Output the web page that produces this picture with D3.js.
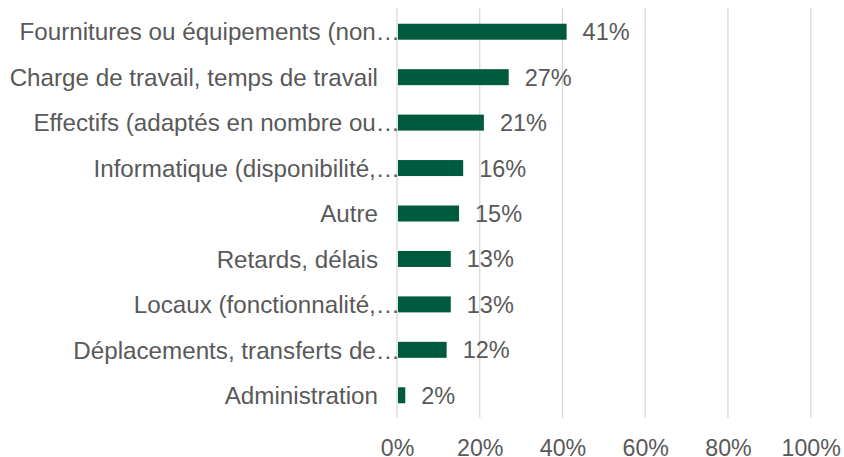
<!DOCTYPE html>
<html><head><meta charset="utf-8">
<script src="https://cdn.jsdelivr.net/npm/d3@7"></script>
<style>body{margin:0;background:#fff}svg{display:block}</style>
</head><body>
<script>
const categories = [
  "Fournitures ou équipements (non…",
  "Charge de travail, temps de travail",
  "Effectifs (adaptés en nombre ou…",
  "Informatique (disponibilité,…",
  "Autre",
  "Retards, délais",
  "Locaux (fonctionnalité,…",
  "Déplacements, transferts de…",
  "Administration"
];
const values = [41, 27, 21, 16, 15, 13, 13, 12, 2];
const tickValues = [0, 20, 40, 60, 80, 100];
const tickLabels = ["0%", "20%", "40%", "60%", "80%", "100%"];

const W = 844, H = 457;
const svg = d3.select("body").append("svg").attr("width", W).attr("height", H);
const x = d3.scaleLinear().domain([0, 100]).range([397, 810.7]);
const y = d3.scaleBand().domain(categories).range([9, 418]).paddingInner(0.648).paddingOuter(0.324);
const font = "Arial, 'Liberation Sans', sans-serif";
const textColor = "#595959";

// gridlines
svg.append("g").selectAll("line").data(tickValues).join("line")
  .attr("x1", d => x(d)).attr("x2", d => x(d))
  .attr("y1", 8).attr("y2", 418)
  .attr("stroke", "#d9d9d9").attr("stroke-width", 1.3);

// x axis tick labels
const xAxis = d3.axisBottom(x).tickValues(tickValues).tickFormat((d, i) => tickLabels[i]).tickSize(0).tickPadding(0);
const gx = svg.append("g").attr("transform", "translate(0,418)").call(xAxis);
gx.select(".domain").remove();
gx.selectAll("text").attr("y", 37.5).attr("dy", 0).attr("fill", textColor)
  .style("font-family", font).style("font-size", "23.2px");

const data = categories.map((c, i) => ({c, v: values[i]}));

// bars
svg.append("g").selectAll("rect").data(data).join("rect")
  .attr("x", x(0) + 1).attr("y", d => y(d.c))
  .attr("width", d => x(d.v) - x(0) - 1).attr("height", y.bandwidth())
  .attr("fill", "#005a3e");

// category labels
svg.append("g").selectAll("text").data(data).join("text")
  .attr("x", d => d.c.endsWith("…") ? 400 : 378)
  .attr("y", d => y(d.c) + y.bandwidth() / 2)
  .attr("dy", "0.36em").attr("text-anchor", "end").attr("fill", textColor)
  .style("font-family", font).style("font-size", "24.2px")
  .text(d => d.c);

// value labels
svg.append("g").selectAll("text").data(data).join("text")
  .attr("x", d => x(d.v) + 16).attr("y", d => y(d.c) + y.bandwidth() / 2)
  .attr("dy", "0.36em").attr("fill", textColor)
  .style("font-family", font).style("font-size", "23.5px")
  .text(d => d.v + "%");
</script>
</body></html>
